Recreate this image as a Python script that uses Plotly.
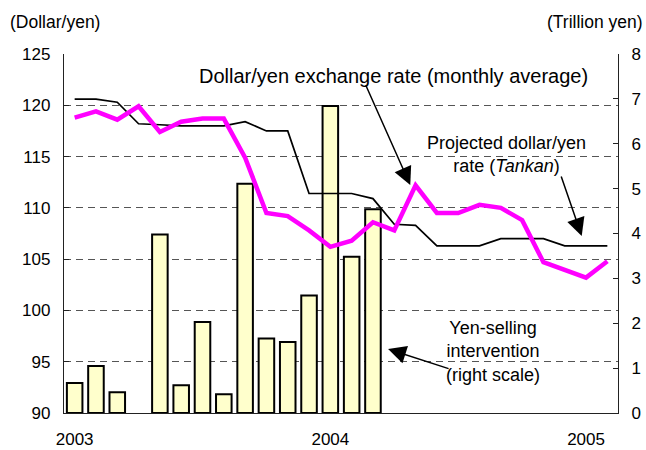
import plotly.graph_objects as go

# monthly, Jan 2003 - Feb 2005
months = ["2003-01", "2003-02", "2003-03", "2003-04", "2003-05", "2003-06",
          "2003-07", "2003-08", "2003-09", "2003-10", "2003-11", "2003-12",
          "2004-01", "2004-02", "2004-03", "2004-04", "2004-05", "2004-06",
          "2004-07", "2004-08", "2004-09", "2004-10", "2004-11", "2004-12",
          "2005-01", "2005-02"]

# yen-selling intervention, trillion yen (right scale); no intervention in Apr 2003 / after Mar 2004
intervention = [0.67, 1.05, 0.46, None, 3.98, 0.62, 2.03, 0.42, 5.11, 1.66, 1.58, 2.62,
                6.84, 3.48, 4.54, None, None, None, None, None, None, None, None, None,
                None, None]

# dollar/yen exchange rate, monthly average
usdjpy = [118.8, 119.4, 118.6, 119.9, 117.4, 118.4, 118.7, 118.7, 114.9, 109.5, 109.2, 107.8,
          106.2, 106.8, 108.6, 107.8, 112.2, 109.5, 109.5, 110.3, 110.0, 108.8, 104.7, 103.9,
          103.2, 104.8]

# projected dollar/yen rate (Tankan)
tankan = [120.6, 120.6, 120.3, 118.2, 118.1, 118.0, 118.0, 118.0, 118.4, 117.5, 117.5, 111.4,
          111.4, 111.4, 110.9, 108.4, 108.3, 106.3, 106.3, 106.3, 107.0, 107.0, 107.0, 106.3,
          106.3, 106.3]

xticks = ["2003-01", "2004-01", "2005-01"]
xtick_text = ["2003", "2004", "2005"]

FONT = "Liberation Sans, Arial, sans-serif"

fig = go.Figure()

fig.add_trace(go.Bar(
    x=months, y=intervention, yaxis="y",
    marker=dict(color="#FFFFCC", line=dict(color="black", width=2)),
    showlegend=False))

fig.add_trace(go.Scatter(
    x=months, y=tankan, yaxis="y2", mode="lines",
    line=dict(color="black", width=1.7), showlegend=False))

fig.add_trace(go.Scatter(
    x=months, y=usdjpy, yaxis="y2", mode="lines",
    line=dict(color="#FF00FF", width=4.5), showlegend=False))

fig.update_layout(
    width=646, height=450,
    margin=dict(l=64, r=28, t=54, b=37),
    plot_bgcolor="white", paper_bgcolor="white",
    font=dict(family=FONT, size=17, color="black"),
    bargap=0.27,
    xaxis=dict(
        type="category", range=[-0.5, 25.5], automargin=False,
        tickvals=xticks, ticktext=xtick_text,
        showgrid=False, ticks="", ticklabelstandoff=10,
        showline=True, linecolor="#222", linewidth=1.3),
    yaxis=dict(
        side="right", range=[0, 8], dtick=1, automargin=False,
        showgrid=False, zeroline=False,
        ticks="inside", ticklen=5, tickcolor="#222",
        ticklabelstandoff=9,
        showline=True, linecolor="#222", linewidth=1.3),
    yaxis2=dict(
        overlaying="y", side="left", range=[90, 125], dtick=5, automargin=False,
        showgrid=True, gridcolor="#555", gridwidth=1, griddash="7px,5px",
        zeroline=False,
        ticks="inside", ticklen=5, tickcolor="#222",
        ticklabelstandoff=9,
        showline=True, linecolor="#222", linewidth=1.3),
)

annos = [
    dict(text="(Dollar/yen)", x=-0.101, y=1.089, xanchor="left", yanchor="middle",
         font=dict(size=17.5)),
    dict(text="(Trillion yen)", x=1.049, y=1.089, xanchor="right", yanchor="middle",
         font=dict(size=17.5)),
    dict(text="Dollar/yen exchange rate (monthly average)", x=0.594, y=0.939,
         xanchor="center", yanchor="middle", font=dict(size=20)),
    dict(text="Projected dollar/yen<br>rate (<i>Tankan</i>)", x=0.798, y=0.719,
         xanchor="center", yanchor="middle", font=dict(size=18)),
    dict(text="Yen-selling<br>intervention<br>(right scale)", x=0.774, y=0.171,
         xanchor="center", yanchor="middle", font=dict(size=18)),
]
for a in annos:
    fig.add_annotation(xref="paper", yref="paper", showarrow=False, **a)

arrows = [
    (0.625, 0.635, -45, -101),
    (0.9345, 0.493, -21, -61),
    (0.585, 0.178, 62, 20),
]
for x, y, ax, ay in arrows:
    fig.add_annotation(xref="paper", yref="paper", x=x, y=y, ax=ax, ay=ay, text="",
                       showarrow=True, arrowhead=2, arrowsize=2.4, arrowwidth=1.5,
                       arrowcolor="black")

# drop the browser's default body margin so the 646x450 figure fills the window
fig.write_html("out.html", config={"displayModeBar": False},
               post_script="document.body.style.margin='0';document.body.style.overflow='hidden';")
